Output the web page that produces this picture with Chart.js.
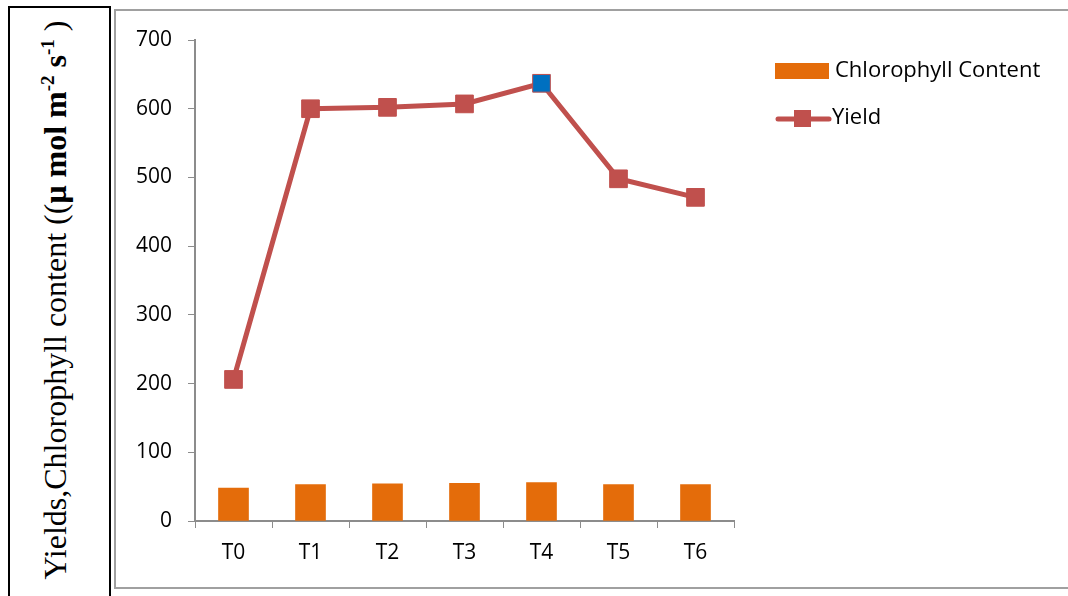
<!DOCTYPE html>
<html>
<head>
<meta charset="utf-8">
<script src="https://cdn.jsdelivr.net/npm/chart.js@4"></script>
<style>
  html, body { margin: 0; background: #fff; width: 1068px; height: 596px; overflow: hidden; }
  body { position: relative; }
  #titleBox {
    position: absolute; left: 8px; top: 6px; width: 103px; height: 600px;
    border: 2px solid #000; box-sizing: border-box;
  }
  #yTitle {
    position: absolute; left: 55px; top: 300px; white-space: nowrap;
    transform: translate(-50%, -50%) rotate(-90deg);
    font-family: "Liberation Serif", "Times New Roman", serif; font-size: 32px; color: #000;
  }
  #yTitle sup { font-size: 19px; vertical-align: 12px; line-height: 0; }
  #frame {
    position: absolute; left: 114px; top: 9px; width: 954px; height: 580px;
    border-top: 2px solid #a0a0a0; border-left: 2px solid #a0a0a0; border-bottom: 2px solid #a0a0a0;
    box-sizing: border-box;
  }
  #wrap { position: absolute; left: 115px; top: 10px; width: 953px; height: 577px; }
</style>
</head>
<body>
<div id="titleBox"></div>
<div id="yTitle">Yields,Chlorophyll content ((<b>μ mol m<sup>-2</sup> s<sup>-1</sup></b> )</div>
<div id="frame"></div>
<div id="wrap"><canvas id="chart"></canvas></div>

<script>
const categories = ["T0", "T1", "T2", "T3", "T4", "T5", "T6"];
const chlorophyll = [48, 53, 54, 55, 56, 53, 53];
const yieldValues = [206, 600, 602, 607, 637, 498, 471];
const seriesNames = ["Chlorophyll Content", "Yield"];

const orange = "#E46C0A";
const red = "#C0504D";
const blue = "#0070C0";
const axisGrey = "#8c8c8c";
const tickFont = { family: "'Open Sans', sans-serif", size: 21 };

// yield markers are red, the top one highlighted in blue
const markerColors = yieldValues.map(v => v === Math.max(...yieldValues) ? blue : red);

// legend at the upper right, drawn on the canvas
const sideLegend = {
  id: "sideLegend",
  afterDraw(chart) {
    const ctx = chart.ctx;
    const x = 660;
    ctx.save();
    ctx.font = "22px " + tickFont.family;
    ctx.textBaseline = "middle";

    ctx.fillStyle = orange;
    ctx.fillRect(x, 53, 54, 16);
    ctx.fillStyle = "#000";
    ctx.fillText(seriesNames[0], x + 60, 61);

    ctx.strokeStyle = red;
    ctx.lineWidth = 5;
    ctx.lineCap = "round";
    ctx.beginPath();
    ctx.moveTo(x + 3, 109);
    ctx.lineTo(x + 54, 109);
    ctx.stroke();
    ctx.fillStyle = red;
    ctx.fillRect(x + 19, 100, 17, 17);
    ctx.fillStyle = "#000";
    ctx.fillText(seriesNames[1], x + 57, 108);
    ctx.restore();
  }
};

new Chart(document.getElementById("chart"), {
  type: "bar",
  data: {
    labels: categories,
    datasets: [
      {
        type: "line",
        label: seriesNames[1],
        data: yieldValues,
        borderColor: red,
        borderWidth: 5,
        pointStyle: "rect",
        pointRadius: 12.5,
        pointHoverRadius: 12.5,
        pointBackgroundColor: markerColors,
        pointBorderColor: red,
        pointBorderWidth: 1,
        order: 1
      },
      {
        label: seriesNames[0],
        data: chlorophyll,
        backgroundColor: orange,
        barThickness: 30,
        order: 2
      }
    ]
  },
  options: {
    responsive: true,
    maintainAspectRatio: false,
    animation: false,
    layout: { padding: { top: 30, right: 334, left: 0, bottom: 0 } },
    plugins: { legend: { display: false }, tooltip: { enabled: false } },
    scales: {
      x: {
        grid: { drawOnChartArea: false, drawTicks: true, tickLength: 7, color: axisGrey, offset: true },
        border: { color: axisGrey, width: 2 },
        ticks: { color: "#000", font: tickFont, padding: 12 },
        afterFit: s => { s.height = 66; }
      },
      y: {
        min: 0,
        max: 700,
        ticks: { stepSize: 100, color: "#000", font: tickFont, padding: 16 },
        grid: { drawOnChartArea: false, drawTicks: true, tickLength: 7, color: axisGrey },
        border: { color: axisGrey, width: 2 },
        afterFit: s => { s.width = 80; }
      }
    }
  },
  plugins: [sideLegend]
});
</script>
</body>
</html>
